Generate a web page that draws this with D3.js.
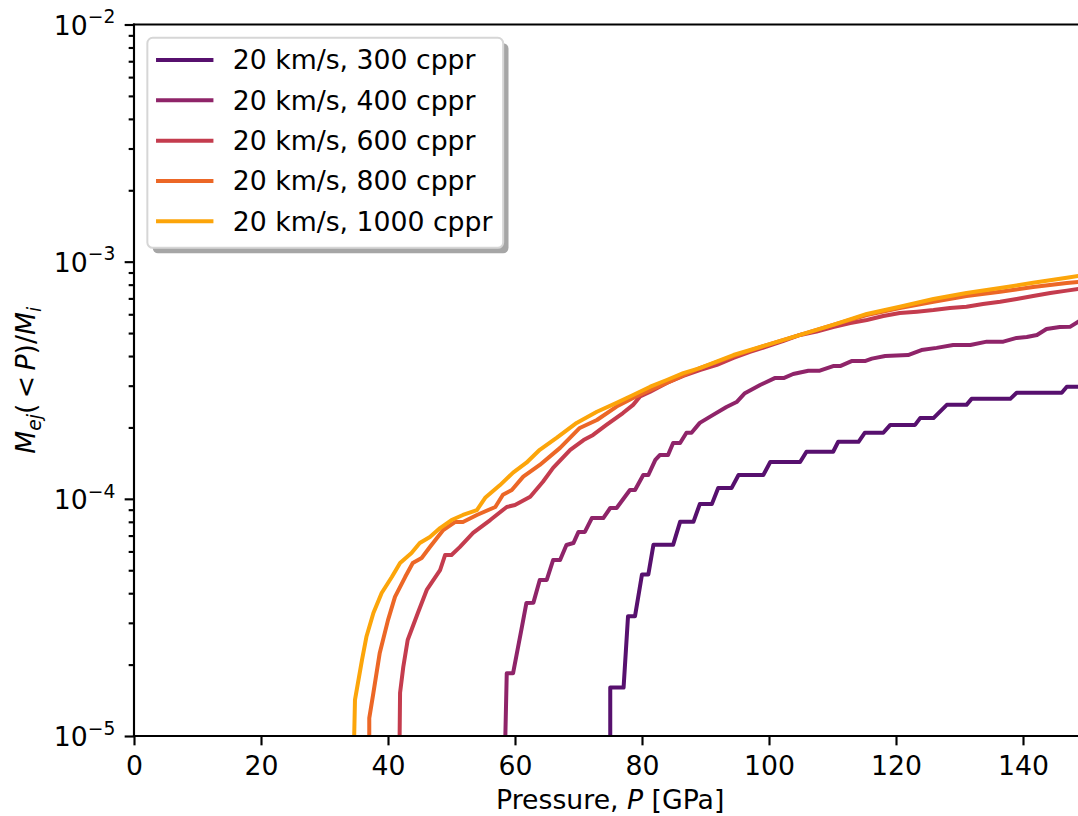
<!DOCTYPE html>
<html>
<head>
<meta charset="utf-8">
<script src="https://cdn.jsdelivr.net/npm/d3@7"></script>
<style>
  html, body { margin: 0; padding: 0; background: #fff; }
  svg { display: block; font-family: "DejaVu Sans", sans-serif; }
</style>
</head>
<body>
<svg id="chart" width="1078" height="816"></svg>
<script>
// Cumulative ejected mass fraction versus peak pressure, 20 km/s impacts
// at five resolutions (cells per projectile radius). Each series is a list
// of [pressure in GPa, M_ej(<P)/M_i]; a zero fraction sits off the bottom
// of the log axis.
const seriesLabels = [
  "20 km/s, 300 cppr",
  "20 km/s, 400 cppr",
  "20 km/s, 600 cppr",
  "20 km/s, 800 cppr",
  "20 km/s, 1000 cppr"
];

const cppr300 = [
  [75.0, 0], [75.0, 1.6e-5], [77.1, 1.6e-5], [77.8, 3.2e-5], [78.9, 3.2e-5],
  [80.0, 4.8e-5], [81.0, 4.8e-5], [81.8, 6.4e-5], [84.9, 6.4e-5], [86.0, 8.0e-5],
  [88.1, 8.0e-5], [89.1, 9.5e-5], [91.0, 9.5e-5], [92.0, 1.11e-4], [94.1, 1.11e-4],
  [95.2, 1.26e-4], [99.1, 1.26e-4], [100.2, 1.43e-4], [104.9, 1.43e-4], [105.9, 1.58e-4],
  [110.1, 1.58e-4], [110.9, 1.74e-4], [114.1, 1.74e-4], [115.1, 1.90e-4], [118.0, 1.90e-4],
  [119.1, 2.05e-4], [123.0, 2.05e-4], [123.8, 2.19e-4], [125.9, 2.19e-4], [128.0, 2.49e-4],
  [131.1, 2.49e-4], [131.9, 2.64e-4], [138.0, 2.64e-4], [139.0, 2.80e-4], [146.1, 2.80e-4],
  [146.9, 2.97e-4], [148.7, 2.97e-4]
];

const cppr400 = [
  [58.2, 0], [58.7, 1.84e-5], [59.7, 1.84e-5], [61.0, 2.80e-5], [61.8, 3.64e-5],
  [62.9, 3.65e-5], [63.9, 4.55e-5], [65.0, 4.55e-5], [66.0, 5.52e-5], [67.1, 5.52e-5],
  [68.1, 6.39e-5], [69.2, 6.51e-5], [70.0, 7.25e-5], [71.0, 7.25e-5], [72.1, 8.30e-5],
  [73.9, 8.30e-5], [75.0, 9.15e-5], [76.0, 9.15e-5], [78.1, 1.09e-4], [78.9, 1.09e-4],
  [80.2, 1.26e-4], [81.0, 1.26e-4], [82.1, 1.46e-4], [82.8, 1.53e-4], [84.1, 1.53e-4],
  [84.9, 1.72e-4], [86.0, 1.72e-4], [87.0, 1.90e-4], [87.8, 1.90e-4], [89.1, 2.09e-4],
  [91.2, 2.26e-4], [93.3, 2.44e-4], [94.9, 2.56e-4], [96.2, 2.79e-4], [98.6, 3.02e-4],
  [100.9, 3.23e-4], [102.3, 3.23e-4], [103.8, 3.36e-4], [106.2, 3.47e-4], [108.0, 3.47e-4],
  [110.1, 3.63e-4], [111.2, 3.63e-4], [113.0, 3.81e-4], [115.1, 3.81e-4], [116.2, 3.90e-4],
  [118.3, 4.00e-4], [121.9, 4.04e-4], [124.0, 4.24e-4], [126.4, 4.33e-4], [129.0, 4.45e-4],
  [131.7, 4.45e-4], [134.3, 4.60e-4], [136.9, 4.60e-4], [139.0, 4.77e-4], [140.6, 4.81e-4],
  [142.2, 4.91e-4], [143.7, 5.20e-4], [145.8, 5.30e-4], [147.4, 5.31e-4], [148.7, 5.58e-4]
];

const cppr600 = [
  [41.7, 0], [41.9, 1.52e-5], [42.4, 1.95e-5], [43.1, 2.54e-5], [44.7, 3.30e-5],
  [46.1, 4.13e-5], [48.2, 5.01e-5], [49.0, 5.80e-5], [50.0, 5.80e-5], [51.3, 6.26e-5],
  [53.4, 7.18e-5], [56.1, 8.14e-5], [58.7, 9.24e-5], [60.0, 9.42e-5], [62.4, 1.02e-4],
  [64.4, 1.18e-4], [66.0, 1.35e-4], [68.7, 1.61e-4], [70.8, 1.77e-4], [72.3, 1.86e-4],
  [74.4, 2.05e-4], [77.0, 2.30e-4], [78.6, 2.49e-4], [79.7, 2.70e-4], [81.3, 2.83e-4],
  [83.9, 3.08e-4], [86.5, 3.30e-4], [89.1, 3.49e-4], [91.8, 3.67e-4], [94.4, 3.93e-4],
  [97.0, 4.17e-4], [99.6, 4.38e-4], [102.3, 4.64e-4], [104.9, 4.91e-4], [107.5, 5.07e-4],
  [110.1, 5.30e-4], [112.8, 5.51e-4], [115.4, 5.68e-4], [118.0, 5.90e-4], [120.6, 6.07e-4],
  [123.3, 6.15e-4], [125.9, 6.25e-4], [128.5, 6.38e-4], [131.1, 6.46e-4], [133.7, 6.63e-4],
  [136.4, 6.78e-4], [139.0, 6.96e-4], [141.6, 7.17e-4], [144.3, 7.38e-4], [146.9, 7.55e-4],
  [148.7, 7.67e-4]
];

const cppr800 = [
  [37.05, 0], [37.05, 1.19e-5], [37.7, 1.52e-5], [38.7, 2.24e-5], [40.0, 3.08e-5],
  [41.1, 3.86e-5], [42.7, 4.68e-5], [43.9, 5.36e-5], [45.3, 5.63e-5], [46.6, 6.26e-5],
  [48.7, 7.39e-5], [50.6, 7.99e-5], [51.8, 7.99e-5], [54.0, 8.55e-5], [56.9, 9.24e-5],
  [58.1, 1.04e-4], [59.5, 1.09e-4], [61.3, 1.24e-4], [63.9, 1.39e-4], [67.1, 1.64e-4],
  [70.2, 1.99e-4], [72.9, 2.15e-4], [76.0, 2.45e-4], [78.6, 2.66e-4], [80.2, 2.79e-4],
  [83.9, 3.08e-4], [89.1, 3.56e-4], [94.4, 4.00e-4], [99.6, 4.45e-4], [104.9, 4.91e-4],
  [110.1, 5.41e-4], [115.4, 5.96e-4], [120.6, 6.38e-4], [125.9, 6.78e-4], [131.1, 7.17e-4],
  [136.4, 7.47e-4], [141.6, 7.82e-4], [146.9, 8.13e-4], [148.7, 8.21e-4]
];

const cppr1000 = [
  [34.4, 0], [34.8, 1.42e-5], [35.9, 2.09e-5], [36.6, 2.62e-5], [37.7, 3.30e-5],
  [39.0, 4.01e-5], [40.6, 4.68e-5], [41.9, 5.36e-5], [43.7, 5.91e-5], [45.0, 6.51e-5],
  [46.6, 6.90e-5], [48.2, 7.53e-5], [50.0, 8.14e-5], [51.8, 8.55e-5], [54.0, 8.97e-5],
  [55.3, 1.01e-4], [57.6, 1.14e-4], [59.7, 1.29e-4], [61.8, 1.42e-4], [63.9, 1.61e-4],
  [66.6, 1.81e-4], [69.7, 2.09e-4], [72.9, 2.33e-4], [76.0, 2.54e-4], [78.6, 2.74e-4],
  [81.3, 2.97e-4], [83.9, 3.17e-4], [86.5, 3.39e-4], [89.1, 3.56e-4], [94.4, 4.04e-4],
  [99.6, 4.45e-4], [104.9, 4.91e-4], [110.1, 5.41e-4], [115.4, 6.02e-4], [120.6, 6.46e-4],
  [125.9, 6.96e-4], [131.1, 7.38e-4], [136.4, 7.74e-4], [141.6, 8.15e-4], [146.9, 8.56e-4],
  [148.7, 8.70e-4]
];

const allSeries = [cppr300, cppr400, cppr600, cppr800, cppr1000];
// positions along the inferno colour map for the five resolutions
const colourStops = [0.25, 0.3875, 0.525, 0.6625, 0.8];

const xDomain = [0, 150];
const yDomain = [1e-5, 1e-2];
const xTickValues = [0, 20, 40, 60, 80, 100, 120, 140];
const yMajorTicks = [1e-5, 1e-4, 1e-3, 1e-2];
const yMinorTicks = [];
[1e-5, 1e-4, 1e-3].forEach(dec => {
  for (let k = 2; k <= 9; k++) yMinorTicks.push(k * dec);
});

// ---- layout (1 pt = 2.67 px) ----
const PT = 2.67;
const FS = 10 * PT;              // base font size
const plotLeft = 134, plotRight = 1086.5, plotTop = 24.5, plotBottom = 736;

const svg = d3.select("#chart");
svg.append("rect").attr("width", 1078).attr("height", 816).attr("fill", "#fff");

const x = d3.scaleLinear().domain(xDomain).range([plotLeft, plotRight]);
const y = d3.scaleLog().domain(yDomain).range([plotBottom, plotTop]);

svg.append("defs").append("clipPath").attr("id", "plot-clip")
  .append("rect")
  .attr("x", plotLeft).attr("y", plotTop)
  .attr("width", plotRight - plotLeft).attr("height", plotBottom - plotTop);

// ---- curves ----
const line = d3.line()
  .x(d => x(d[0]))
  .y(d => d[1] > 0 ? y(d[1]) : plotBottom + 80);

svg.append("g").attr("clip-path", "url(#plot-clip)")
  .selectAll("path")
  .data(allSeries)
  .join("path")
  .attr("d", line)
  .attr("fill", "none")
  .attr("stroke", (d, i) => d3.interpolateInferno(colourStops[i]))
  .attr("stroke-width", 1.5 * PT)
  .attr("stroke-linejoin", "round")
  .attr("stroke-linecap", "square");

// ---- axes ----
function styleAxis(g) {
  g.select(".domain").remove();
  g.selectAll(".tick line").attr("stroke", "#000").attr("stroke-width", 0.8 * PT);
  g.selectAll(".tick text")
    .attr("fill", "#000")
    .style("font-family", '"DejaVu Sans", sans-serif')
    .style("font-size", FS + "px");
}

const gx = svg.append("g")
  .attr("transform", `translate(0,${plotBottom})`)
  .call(d3.axisBottom(x).tickValues(xTickValues).tickSize(3.5 * PT).tickFormat(d3.format("d")))
  .call(styleAxis);
gx.selectAll(".tick text").attr("dy", null).attr("y", 39);

svg.append("g")
  .attr("transform", `translate(${plotLeft},0)`)
  .call(d3.axisLeft(y).tickValues(yMinorTicks).tickSize(2 * PT).tickFormat(""))
  .call(styleAxis);

const gy = svg.append("g")
  .attr("transform", `translate(${plotLeft},0)`)
  .call(d3.axisLeft(y).tickValues(yMajorTicks).tickSize(3.5 * PT).tickPadding(3.5 * PT))
  .call(styleAxis);

gy.selectAll(".tick text")
  .attr("dy", null)
  .attr("y", 9.8)
  .each(function (d) {
    const t = d3.select(this).text(null);
    t.append("tspan").text("10");
    t.append("tspan")
      .attr("dy", -11.5)
      .style("font-size", (0.7 * FS) + "px")
      .text("\u2212" + Math.abs(Math.round(Math.log10(d))));
  });

// ---- spines ----
const spines = svg.append("g")
  .attr("stroke", "#000").attr("stroke-width", 0.8 * PT).attr("stroke-linecap", "square");
spines.append("line").attr("x1", plotLeft).attr("x2", plotLeft).attr("y1", plotTop).attr("y2", plotBottom);
spines.append("line").attr("x1", plotLeft).attr("x2", plotRight).attr("y1", plotBottom).attr("y2", plotBottom);
spines.append("line").attr("x1", plotLeft).attr("x2", plotRight).attr("y1", plotTop).attr("y2", plotTop);
spines.append("line").attr("x1", plotRight).attr("x2", plotRight).attr("y1", plotTop).attr("y2", plotBottom);

// ---- axis labels ----
const xl = svg.append("text")
  .attr("x", (plotLeft + plotRight) / 2).attr("y", 809)
  .attr("text-anchor", "middle")
  .style("font-size", FS + "px").attr("fill", "#000");
xl.append("tspan").text("Pressure, ");
xl.append("tspan").attr("font-style", "italic").text("P");
xl.append("tspan").text(" [GPa]");

const yl = svg.append("text")
  .attr("transform", `translate(35,${(plotTop + plotBottom) / 2}) rotate(-90)`)
  .attr("text-anchor", "middle")
  .style("font-size", FS + "px").attr("fill", "#000");
const sub = 0.7 * FS, subShift = 5.5;
yl.append("tspan").attr("font-style", "italic").text("M");
yl.append("tspan").attr("font-style", "italic").attr("dy", subShift)
  .style("font-size", sub + "px").text("ej");
yl.append("tspan").attr("dy", -subShift).text("(\u2009<\u2009");
yl.append("tspan").attr("font-style", "italic").text("P");
yl.append("tspan").text(")/");
yl.append("tspan").attr("font-style", "italic").text("M");
yl.append("tspan").attr("font-style", "italic").attr("dy", subShift)
  .style("font-size", sub + "px").text("i");

// ---- legend ----
const lgX = plotLeft + 0.5 * FS, lgY = plotTop + 0.5 * FS;
const pad = 0.4 * FS, handleLen = 2 * FS, textGap = 0.8 * FS;
const rowPitch = 40.3, firstRow = 22.2;

const lg = svg.append("g");
const shadow = lg.append("rect");
const frame = lg.append("rect");
const rows = lg.selectAll("g.row")
  .data(seriesLabels)
  .join("g")
  .attr("class", "row")
  .attr("transform", (d, i) => `translate(0,${lgY + firstRow + i * rowPitch})`);
rows.append("line")
  .attr("x1", lgX + pad).attr("x2", lgX + pad + handleLen)
  .attr("stroke", (d, i) => d3.interpolateInferno(colourStops[i]))
  .attr("stroke-width", 1.5 * PT)
  .attr("stroke-linecap", "square");
const labelsSel = rows.append("text")
  .attr("x", lgX + pad + handleLen + textGap)
  .attr("y", 9.3)
  .style("font-size", FS + "px").attr("fill", "#000")
  .text(d => d);

let maxW = 0;
labelsSel.each(function () { maxW = Math.max(maxW, this.getComputedTextLength()); });
const lgW = pad + handleLen + textGap + maxW + pad;
const lgH = 210;
const radius = 0.2 * FS;

shadow.attr("x", lgX + 2 * PT).attr("y", lgY + 2 * PT)
  .attr("width", lgW).attr("height", lgH).attr("rx", radius)
  .attr("fill", "#4d4d4d").attr("fill-opacity", 0.5);
frame.attr("x", lgX).attr("y", lgY)
  .attr("width", lgW).attr("height", lgH).attr("rx", radius)
  .attr("fill", "#fff").attr("stroke", "#d6d6d6").attr("stroke-width", 2);
</script>
</body>
</html>
